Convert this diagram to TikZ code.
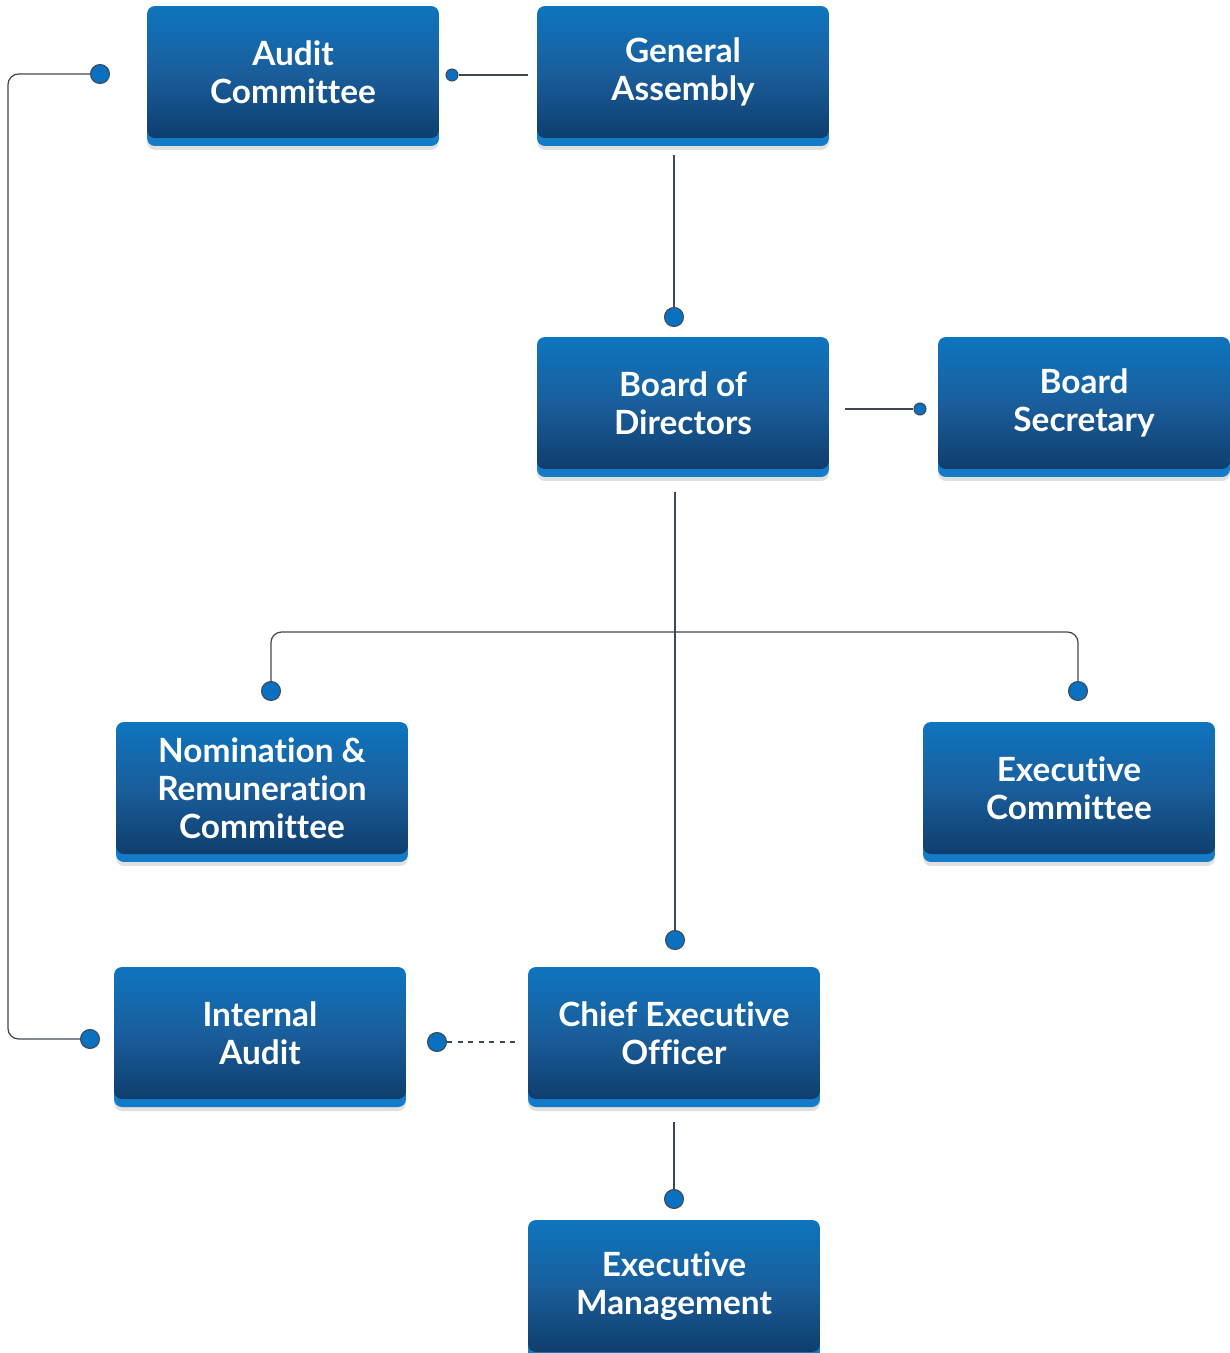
\documentclass[tikz,border=0pt]{standalone}
\usepackage{fontspec}
\setmainfont{Lato}[Ligatures=NoCommon]
\usepackage{tikz}
\usetikzlibrary{positioning}
\definecolor{boxtop}{HTML}{0E75BE}
\definecolor{boxmid}{HTML}{1A5E9C}
\definecolor{boxbot}{HTML}{0F3E6D}
\definecolor{stripe}{HTML}{147BC8}
\definecolor{pinblue}{HTML}{0A70C0}
\definecolor{wire}{HTML}{3E4852}
\tikzset{
  orgbox/.style={rectangle, rounded corners=4.5pt, minimum width=5.84cm, minimum height=2.64cm,
    top color=boxtop, bottom color=boxbot, middle color=boxmid,
    preaction={fill=black!12, transform canvas={yshift=-0.24cm, xscale=1}},
    preaction={fill=stripe, transform canvas={yshift=-0.16cm}},
    text=white, align=center, font=\bfseries\fontsize{19}{21.5}\selectfont},
  bigpin/.style={circle, draw=wire, fill=pinblue, line width=0.6pt, inner sep=0pt, minimum size=0.38cm},
  smallpin/.style={circle, draw=wire, fill=pinblue, line width=0.6pt, inner sep=0pt, minimum size=0.24cm},
  link/.style={draw=wire, line width=0.7pt},
}
\begin{document}
\begin{tikzpicture}[x=0.02cm,y=-0.02cm]
    \useasboundingbox (0,0) rectangle (1230,1353);

    \node[orgbox] (audit) at (293,72) {Audit\\Committee};
    \node[orgbox] (assembly) at (683,72) {General\\Assembly};
    \node[orgbox] (board) at (683,403) {Board of\\Directors};
    \node[orgbox] (secretary) at (1084,403) {Board\\Secretary};
    \node[orgbox] (nomination) at (262,788) {Nomination \&\\Remuneration\\Committee};
    \node[orgbox] (execcom) at (1069,788) {Executive\\Committee};
    \node[orgbox] (internal) at (260,1033) {Internal\\Audit};
    \node[orgbox] (ceo) at (674,1033) {Chief Executive\\Officer};
    \node[orgbox] (mgmt) at (674,1286) {Executive\\Management};

    % pins
    \node[smallpin] (p1) at (452,75) {};
    \node[bigpin] (p2) at (100,74) {};
    \node[bigpin] (p3) at (90,1039) {};
    \node[bigpin] (p4) at (674,317) {};
    \node[smallpin] (p5) at (920,409) {};
    \node[bigpin] (p6) at (675,940) {};
    \node[bigpin] (p7) at (271,691) {};
    \node[bigpin] (p8) at (1078,691) {};
    \node[bigpin] (p9) at (437,1042) {};
    \node[bigpin] (p10) at (674,1199) {};
    \coordinate (rail) at (8,0);
    \coordinate (fork) at (675,632);

    \draw[link, shorten >=5pt] (p1) -- (p1 -| assembly.west);
    \draw[link, rounded corners=6pt] (p2) -- (p2 -| rail) -- (p3 -| rail) -- (p3);
    \draw[link, shorten <=9.6pt] (assembly.south -| p4) -- (p4);
    \draw[link, shorten <=9pt] (board.east |- p5) -- (p5);
    \draw[link, shorten <=13pt] (board.south -| p6) -- (p6);
    \draw[link, rounded corners=6pt] (p7) -- (p7 |- fork) -- (p8 |- fork) -- (p8);
    \draw[link, dashed, shorten >=7.4pt] (p9) -- (p9 -| ceo.west);
    \draw[link, shorten <=13pt] (ceo.south -| p10) -- (p10);
\end{tikzpicture}
\end{document}
